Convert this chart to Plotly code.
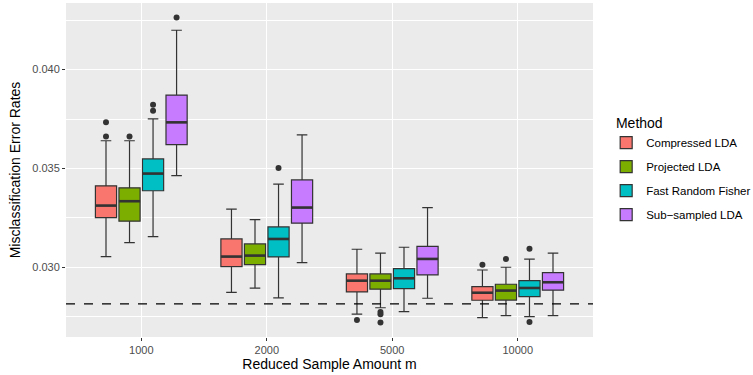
import plotly.graph_objects as go

groups = ["1000", "2000", "5000", "10000"]
methods = ["Compressed LDA", "Projected LDA", "Fast Random Fisher", "Sub\u2212sampled LDA"]
colors = ["#F8766D", "#7CAE00", "#00BFC4", "#C77CFF"]

# per method: values across groups 1000, 2000, 5000, 10000
q1 = {
    "Compressed LDA":      [0.03251, 0.03003, 0.02875, 0.02833],
    "Projected LDA":       [0.03233, 0.03013, 0.02889, 0.02834],
    "Fast Random Fisher":  [0.03387, 0.03052, 0.02892, 0.02851],
    "Sub\u2212sampled LDA":[0.03620, 0.03223, 0.02961, 0.02884],
}
median = {
    "Compressed LDA":      [0.03312, 0.03054, 0.02932, 0.02871],
    "Projected LDA":       [0.03334, 0.03059, 0.02932, 0.02882],
    "Fast Random Fisher":  [0.03474, 0.03143, 0.02944, 0.02895],
    "Sub\u2212sampled LDA":[0.03733, 0.03302, 0.03042, 0.02924],
}
q3 = {
    "Compressed LDA":      [0.03412, 0.03143, 0.02966, 0.02902],
    "Projected LDA":       [0.03402, 0.03118, 0.02966, 0.02914],
    "Fast Random Fisher":  [0.03548, 0.03204, 0.02993, 0.02932],
    "Sub\u2212sampled LDA":[0.03871, 0.03442, 0.03106, 0.02973],
}
lower = {
    "Compressed LDA":      [0.03054, 0.02873, 0.02763, 0.02745],
    "Projected LDA":       [0.03125, 0.02894, 0.02795, 0.02755],
    "Fast Random Fisher":  [0.03155, 0.02845, 0.02775, 0.02750],
    "Sub\u2212sampled LDA":[0.03464, 0.03023, 0.02843, 0.02755],
}
upper = {
    "Compressed LDA":      [0.03640, 0.03294, 0.03091, 0.02986],
    "Projected LDA":       [0.03640, 0.03241, 0.03071, 0.03000],
    "Fast Random Fisher":  [0.03751, 0.03421, 0.03101, 0.03041],
    "Sub\u2212sampled LDA":[0.04199, 0.03670, 0.03302, 0.03071],
}
outliers = {
    "Compressed LDA":      [[0.03662, 0.03733], [], [0.02733], [0.03013]],
    "Projected LDA":       [[0.03662], [], [0.02774, 0.02762, 0.02721], [0.03042]],
    "Fast Random Fisher":  [[0.03792, 0.03822], [0.03502], [], [0.03093, 0.02723]],
    "Sub\u2212sampled LDA":[[0.04263], [], [], []],
}
baseline = 0.02815

y_ticks = [0.030, 0.035, 0.040]
y_tick_text = ["0.030", "0.035", "0.040"]

dodge = 0.75
n = len(methods)
box_w = dodge / n * 0.9

fig = go.Figure()
for j, m in enumerate(methods):
    off = (j - (n - 1) / 2) * dodge / n
    xs = [i + 1 + off for i in range(len(groups))]
    fig.add_trace(go.Box(
        x=xs, q1=q1[m], median=median[m], q3=q3[m],
        lowerfence=lower[m], upperfence=upper[m],
        width=box_w, name=m, fillcolor=colors[j],
        line=dict(color="#333333", width=1.2),
        legendgroup=m, showlegend=True, hoverinfo="skip",
    ))
    # thick median lines
    mx, my = [], []
    for x, med in zip(xs, median[m]):
        mx += [x - box_w / 2, x + box_w / 2, None]
        my += [med, med, None]
    fig.add_trace(go.Scatter(x=mx, y=my, mode="lines",
                             line=dict(color="#333333", width=2.6),
                             showlegend=False, hoverinfo="skip"))
    ox, oy = [], []
    for x, pts in zip(xs, outliers[m]):
        for p in pts:
            ox.append(x)
            oy.append(p)
    fig.add_trace(go.Scatter(x=ox, y=oy, mode="markers",
                             marker=dict(color="#333333", size=6),
                             showlegend=False, hoverinfo="skip"))

fig.add_hline(y=baseline, line=dict(color="black", width=1.2, dash="dash"))

fig.update_layout(
    width=753, height=375,
    margin=dict(l=66, r=160, t=3, b=38, autoexpand=False),
    paper_bgcolor="white", plot_bgcolor="#EBEBEB",
    font=dict(family="Liberation Sans, Arial, sans-serif", color="black"),
    boxmode="overlay",
    showlegend=True,
    hovermode=False,
    legend=dict(
        title=dict(text="\u00a0\u00a0Method", font=dict(size=14)),
        font=dict(size=11.5),
        x=1.025, xanchor="left", y=0.5, yanchor="middle",
        tracegroupgap=5, bgcolor="rgba(0,0,0,0)",
    ),
)
fig.update_xaxes(
    range=[0.4, 4.6], tickvals=[1, 2, 3, 4], ticktext=groups,
    showgrid=True, gridcolor="white", gridwidth=1.3, zeroline=False,
    ticks="outside", ticklen=3, tickcolor="#333333", automargin=False,
    tickfont=dict(size=11, color="#4D4D4D"),
    title=dict(text="Reduced Sample Amount m", font=dict(size=14), standoff=3),
)
fig.update_yaxes(
    range=[0.02647, 0.04337], tickvals=y_ticks, ticktext=y_tick_text,
    showgrid=True, gridcolor="white", gridwidth=1.3, zeroline=False,
    minor=dict(dtick=0.005, tick0=0.0275, showgrid=True, gridcolor="white", gridwidth=0.6),
    ticks="outside", ticklen=3, tickcolor="#333333", automargin=False,
    tickfont=dict(size=11, color="#4D4D4D"),
    title=dict(text="Misclassification Error Rates", font=dict(size=14), standoff=8),
)

fig.write_html("out.html", config={"displayModeBar": False},
               post_script="document.body.style.margin='0';")
